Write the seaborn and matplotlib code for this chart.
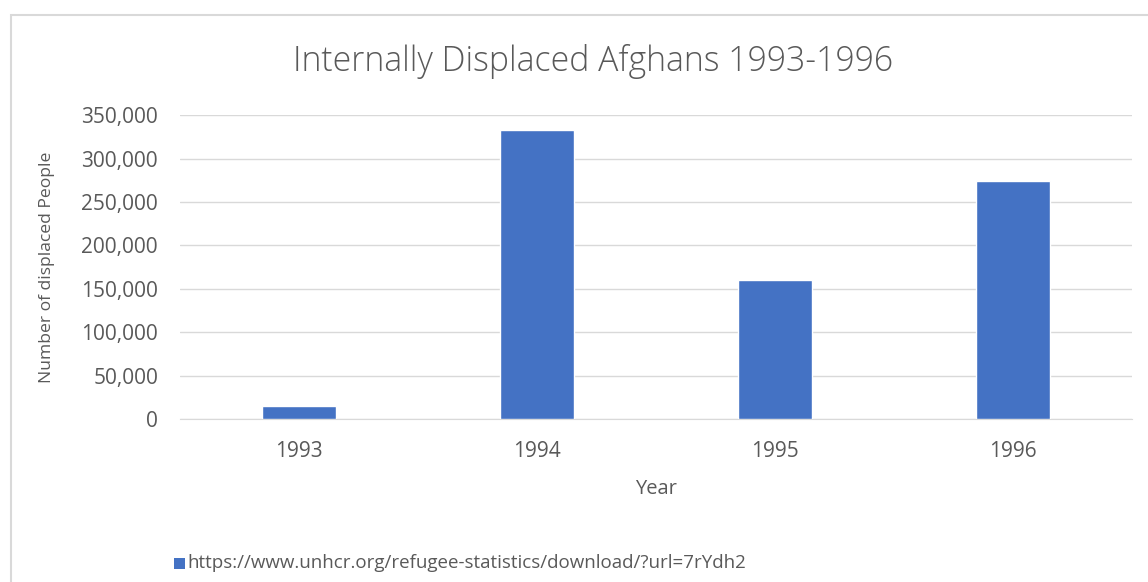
import matplotlib
matplotlib.use("Agg")
import matplotlib.pyplot as plt
import seaborn as sns
import pandas as pd
from matplotlib.patches import Rectangle
from matplotlib.ticker import FuncFormatter

# Data
years = ["1993", "1994", "1995", "1996"]
displaced = [15400, 332600, 159700, 274000]
source_label = "https://www.unhcr.org/refugee-statistics/download/?url=7rYdh2"

df = pd.DataFrame({"Year": years, "Displaced": displaced})

sns.set_style("white")
plt.rcParams["font.family"] = ["Open Sans", "DejaVu Sans"]

bar_color = "#4472C4"
text_color = "#595959"
grid_color = "#D9D9D9"

fig = plt.figure(figsize=(11.48, 5.82), dpi=100)
ax = fig.add_axes([0.157, 0.280, 0.829, 0.522])

sns.barplot(data=df, x="Year", y="Displaced", color=bar_color, width=0.313,
            saturation=1, ax=ax, zorder=3)

ax.set_ylim(0, 350000)
ax.set_yticks(range(0, 350001, 50000))
ax.yaxis.set_major_formatter(FuncFormatter(lambda v, p: f"{int(v):,}"))
ax.grid(axis="y", color=grid_color, linewidth=1, zorder=0)
for s in ["top", "right", "left"]:
    ax.spines[s].set_visible(False)
ax.spines["bottom"].set_color(grid_color)
ax.tick_params(axis="both", length=0, labelsize=15, colors=text_color)
ax.tick_params(axis="y", pad=16)
ax.tick_params(axis="x", pad=16)

ax.set_xlabel("Year", fontsize=14.5, color=text_color, labelpad=12)
ax.set_ylabel("Number of displaced People", fontsize=12.6, color=text_color, labelpad=19)

fig.text(0.5165, 0.895, "Internally Displaced Afghans 1993-1996", ha="center",
         va="center", fontsize=24.3, color=text_color, fontweight="light")

# legend entry at the bottom
fig.patches.append(Rectangle((0.1515, 0.023), 0.0095, 0.019, transform=fig.transFigure,
                             facecolor=bar_color, edgecolor="none"))
fig.text(0.1635, 0.032, source_label, ha="left", va="center", fontsize=13.5,
         color=text_color)

# chart border
fig.patches.append(Rectangle((0.0096, -0.01), 1.0, 0.985, transform=fig.transFigure,
                             facecolor="none", edgecolor=grid_color, linewidth=1.5))

fig.savefig("out.png", dpi=100)
